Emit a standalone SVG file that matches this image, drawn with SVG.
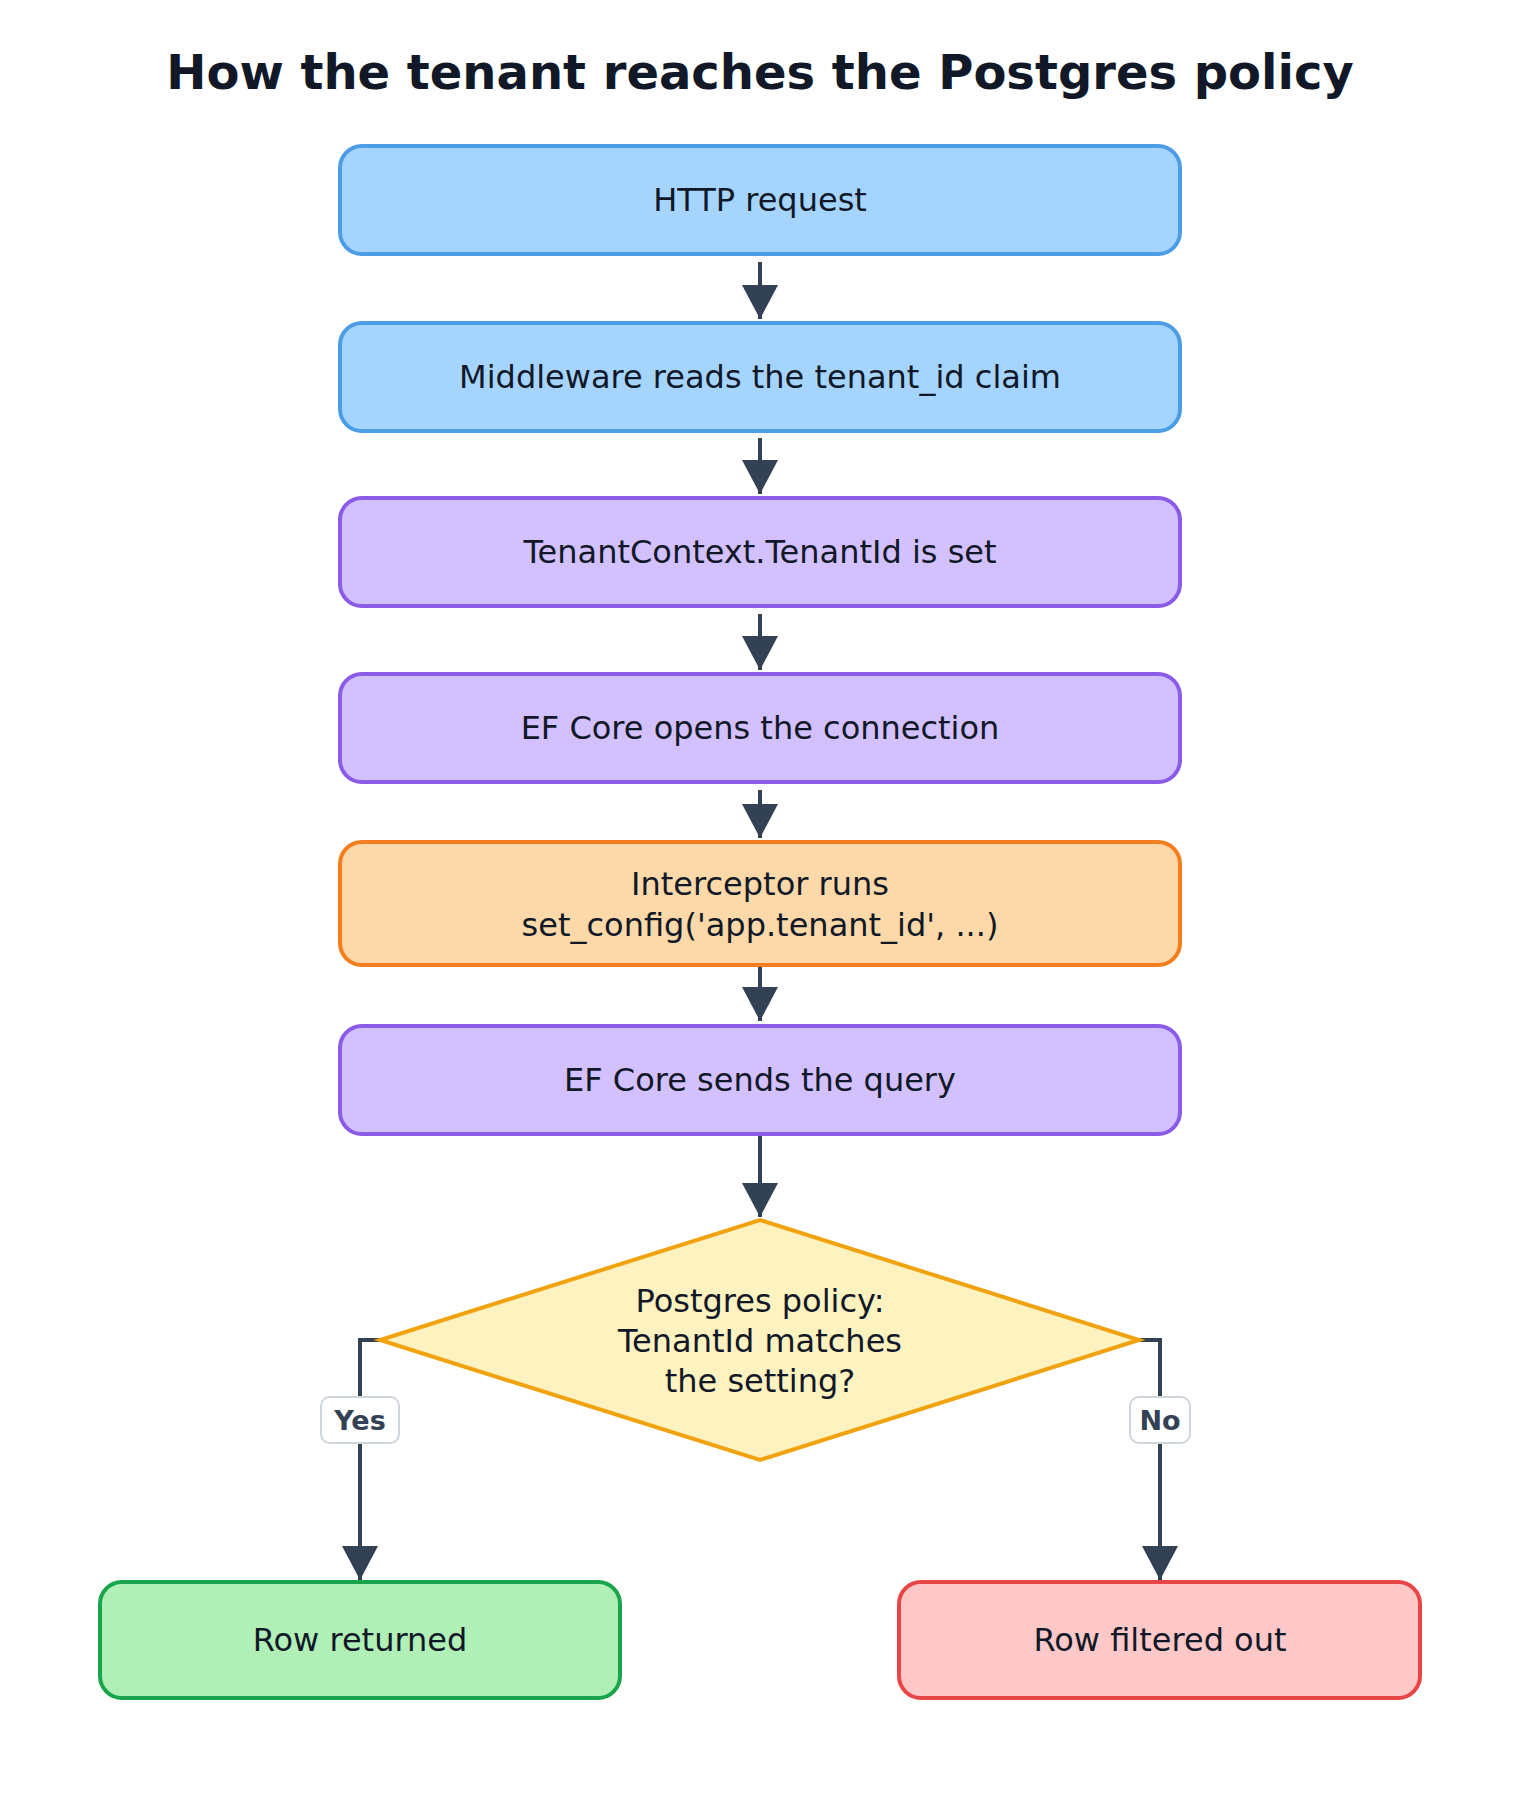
<svg xmlns="http://www.w3.org/2000/svg" width="1520" height="1800" viewBox="0 0 1520 1800">
<style>
.t{font-family:"DejaVu Sans",sans-serif;font-size:32px;fill:#111827;text-anchor:middle;dominant-baseline:central}
.blue{fill:#a5d5ff;stroke:#4b9de6;stroke-width:4}
.purple{fill:#d3c1ff;stroke:#8b5ce8;stroke-width:4}
.orange{fill:#fdd8a8;stroke:#f47e1f;stroke-width:4}
.c{fill:none;stroke:#334155;stroke-width:4}
.lb{fill:#fff;stroke:#cfd5dd;stroke-width:2}
.lt{font-family:"DejaVu Sans",sans-serif;font-size:27px;font-weight:bold;fill:#334155;text-anchor:middle;dominant-baseline:central}
</style>
<defs>
<marker id="a" markerUnits="userSpaceOnUse" markerWidth="36" markerHeight="36" viewBox="0 0 36 36" refX="34" refY="18" orient="auto">
<path d="M0 0 L34 18 L0 36 Z" fill="#334155"/>
</marker>
</defs>
<rect width="1520" height="1800" fill="#fff"/>
<text x="760" y="72" font-family="DejaVu Sans,sans-serif" font-size="48" font-weight="bold" fill="#111827" text-anchor="middle" dominant-baseline="central">How the tenant reaches the Postgres policy</text>
<g id="connectors">
<path class="c" d="M760 262 V319"  marker-end="url(#a)"/>
<path class="c" d="M760 438 V494"  marker-end="url(#a)"/>
<path class="c" d="M760 614 V670"  marker-end="url(#a)"/>
<path class="c" d="M760 790 V838"  marker-end="url(#a)"/>
<path class="c" d="M760 966 V1021" marker-end="url(#a)"/>
<path class="c" d="M760 1136 V1217" marker-end="url(#a)"/>
<path class="c" d="M380 1340 H360 V1580" marker-end="url(#a)"/>
<path class="c" d="M1139 1340 H1160 V1580" marker-end="url(#a)"/>
<g><rect class="lb" x="321" y="1397" width="78" height="46" rx="9"/><text class="lt" x="360" y="1420">Yes</text></g>
<g><rect class="lb" x="1130" y="1397" width="60" height="46" rx="9"/><text class="lt" x="1160" y="1420">No</text></g>
</g>
<g id="n1"><rect class="blue" x="340" y="146" width="840" height="108" rx="22"/><text class="t" x="760" y="200">HTTP request</text></g>
<g id="n2"><rect class="blue" x="340" y="323" width="840" height="108" rx="22"/><text class="t" x="760" y="377">Middleware reads the tenant_id claim</text></g>
<g id="n3"><rect class="purple" x="340" y="498" width="840" height="108" rx="22"/><text class="t" x="760" y="552">TenantContext.TenantId is set</text></g>
<g id="n4"><rect class="purple" x="340" y="674" width="840" height="108" rx="22"/><text class="t" x="760" y="728">EF Core opens the connection</text></g>
<g id="n5"><rect class="orange" x="340" y="842" width="840" height="123" rx="22"/><text class="t" x="760" y="884">Interceptor runs</text><text class="t" x="760" y="925">set_config('app.tenant_id', ...)</text></g>
<g id="n6"><rect class="purple" x="340" y="1026" width="840" height="108" rx="22"/><text class="t" x="760" y="1080">EF Core sends the query</text></g>
<g id="n7"><polygon points="760,1220 1139,1340 760,1460 380,1340" fill="#fef2c0" stroke="#f1a20f" stroke-width="4"/>
<text class="t" x="760" y="1301" font-size="29">Postgres policy:</text><text class="t" x="760" y="1341" font-size="29">TenantId matches</text><text class="t" x="760" y="1381" font-size="29">the setting?</text></g>
<g id="n8"><rect x="100" y="1582" width="520" height="116" rx="22" fill="#b0f0b7" stroke="#1aa44b" stroke-width="4"/><text class="t" x="360" y="1640">Row returned</text></g>
<g id="n9"><rect x="899" y="1582" width="521" height="116" rx="22" fill="#fec8c9" stroke="#e84646" stroke-width="4"/><text class="t" x="1160" y="1640">Row filtered out</text></g>
</svg>
